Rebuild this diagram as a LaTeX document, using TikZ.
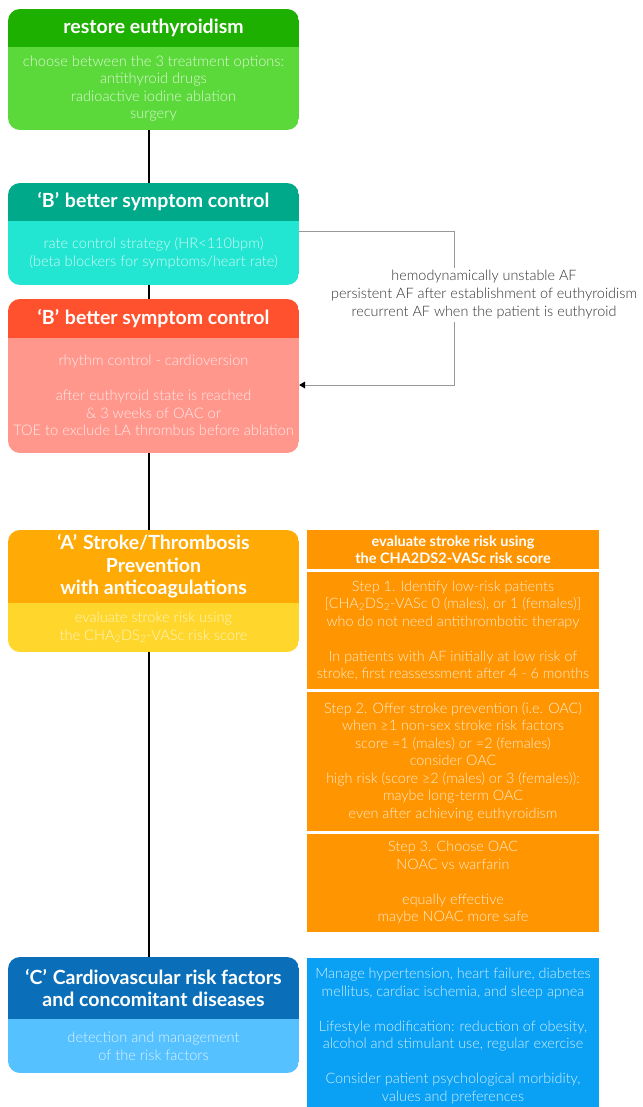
\documentclass[tikz,border=0pt]{standalone}
\usepackage{fontspec}
\setmainfont{Lato}
\newfontfamily\lightfont{Lato Light}
\usetikzlibrary{arrows.meta}
\definecolor{gH}{HTML}{1EB000}
\definecolor{gB}{HTML}{5BD93A}
\definecolor{tH}{HTML}{00A98A}
\definecolor{tB}{HTML}{22E6D2}
\definecolor{rH}{HTML}{FF512D}
\definecolor{rB}{HTML}{FF978D}
\definecolor{oH}{HTML}{FFAA05}
\definecolor{yB}{HTML}{FFD72C}
\definecolor{oR}{HTML}{FF9500}
\definecolor{bH}{HTML}{0A6FB8}
\definecolor{bB}{HTML}{55C1FF}
\definecolor{bR}{HTML}{0AA1F5}
\definecolor{lblgray}{HTML}{333333}
\begin{document}
\begin{tikzpicture}[x=1pt,y=-1pt,
  hdr/.style={minimum width=291pt, inner sep=0pt, text=white,
    font=\fontsize{19.5}{22.5}\selectfont\bfseries, align=center},
  bdy/.style={minimum width=291pt, inner sep=0pt, text=white, text opacity=0.8,
    font=\lightfont\fontsize{14.6}{17.5}\selectfont, align=center},
  rbox/.style={minimum width=292pt, inner sep=0pt, fill=oR, text=white, text opacity=0.82,
    font=\lightfont\fontsize{14.4}{17.5}\selectfont, align=center},
  vline/.style={line width=2pt, black},
  gline/.style={line width=0.9pt, black!40},
  lbl/.style={fill=white, inner sep=2pt, text=lblgray, align=center,
    font=\lightfont\fontsize{14.4}{18}\selectfont}
]
\useasboundingbox[fill=white] (0,0) rectangle (642,1107);

% Box 1
\begin{scope}
\clip[rounded corners=12pt] (8,9) rectangle (299,130);
\node[hdr,fill=gH,minimum height=38pt] (h1) at (153.5,28) {restore euthyroidism};
\node[bdy,fill=gB,minimum height=83pt] (b1) at (153.5,88.5)
  {choose between the 3 treatment options:\\antithyroid drugs\\radioactive iodine ablation\\surgery};
\end{scope}

% Box 2
\begin{scope}
\clip[rounded corners=12pt] (8,183) rectangle (299,285);
\node[hdr,fill=tH,minimum height=38pt] (h2) at (153.5,202) {‘B’\hspace{.3em}better symptom control};
\node[bdy,fill=tB,minimum height=64pt] (b2) at (153.5,253)
  {rate control strategy (HR<110bpm)\\(beta blockers for symptoms/heart rate)};
\end{scope}

% Box 3
\begin{scope}
\clip[rounded corners=12pt] (8,299) rectangle (299,453);
\node[hdr,fill=rH,minimum height=39pt] (h3) at (153.5,318.5) {‘B’\hspace{.3em}better symptom control};
\node[bdy,fill=rB,minimum height=115pt] (b3) at (153.5,395.5)
  {rhythm control - cardioversion\\[17.5pt]after euthyroid state is reached\\\& 3 weeks of OAC or\\TOE to exclude LA thrombus before ablation};
\end{scope}

% Box 4
\begin{scope}
\clip[rounded corners=12pt] (8,530) rectangle (299,652);
\node[hdr,fill=oH,minimum height=73pt] (h4) at (153.5,566.5)
  {‘A’\hspace{.3em}Stroke/Thrombosis\\Prevention\\with anticoagulations};
\node[bdy,fill=yB,minimum height=49pt,text opacity=0.72] (b4) at (153.5,627.5)
  {evaluate stroke risk using\\the CHA\textsubscript{2}DS\textsubscript{2}-VASc risk score};
\end{scope}

% Box 5
\begin{scope}
\clip[rounded corners=12pt] (8,957) rectangle (299,1073);
\node[hdr,fill=bH,minimum height=62pt] (h5) at (153.5,988)
  {‘C’\hspace{.3em}Cardiovascular risk factors\\and concomitant diseases};
\node[bdy,fill=bB,minimum height=54pt] (b5) at (153.5,1046)
  {detection and management\\of the risk factors};
\end{scope}

% main vertical connectors
\draw[vline] ([xshift=-5pt]b1.south) -- ([xshift=-5pt]h2.north);
\draw[vline] ([xshift=-5pt]b2.south) -- ([xshift=-5pt]h3.north);
\draw[vline] ([xshift=-5pt]b3.south) -- ([xshift=-5pt]h4.north);
\draw[vline] ([xshift=-5pt]b4.south) -- ([xshift=-5pt]h5.north);

% side connector rate -> rhythm
\coordinate (c1) at (454,231);
\coordinate (c2) at (454,385);
\draw[gline,-{Triangle[black,length=6pt,width=7pt]}] (b2.east |- c1) -- (c1) -- (c2) -- (b3.east |- c2);
\node[lbl] (lab) at (484,295)
  {hemodynamically unstable AF\\persistent AF after establishment of euthyroidism\\recurrent AF when the patient is euthyroid};

% right orange panel
\node[rbox,minimum height=39pt,text opacity=1,font=\fontsize{14.5}{17}\selectfont\bfseries] (r1) at (453,549.5)
  {evaluate stroke risk using\\the CHA2DS2-VASc risk score};
\node[rbox,minimum height=117pt] (r2) at (453,630.5)
  {Step 1. Identify low-risk patients\\{[}CHA\textsubscript{2}DS\textsubscript{2}-VASc 0 (males), or 1 (females){]}\\who do not need antithrombotic therapy\\[17.5pt]In patients with AF initially at low risk of\\stroke, first reassessment after 4 - 6 months};
\node[rbox,minimum height=139pt] (r3) at (453,761.5)
  {Step 2. Offer stroke prevention (i.e. OAC)\\when ≥1 non-sex stroke risk factors\\score =1 (males) or =2 (females)\\consider OAC\\high risk (score ≥2 (males) or 3 (females)):\\maybe long-term OAC\\even after achieving euthyroidism};
\node[rbox,minimum height=98pt] (r4) at (453,883)
  {Step 3. Choose OAC\\NOAC vs warfarin\\[17.5pt]equally effective\\maybe NOAC more safe};

% right blue panel
\node[rbox,fill=bR,minimum height=156pt] (rb) at (453,1036)
  {Manage hypertension, heart failure, diabetes\\mellitus, cardiac ischemia, and sleep apnea\\[17.5pt]Lifestyle modification: reduction of obesity,\\alcohol and stimulant use, regular exercise\\[17.5pt]Consider patient psychological morbidity,\\values and preferences};
\end{tikzpicture}
\end{document}
